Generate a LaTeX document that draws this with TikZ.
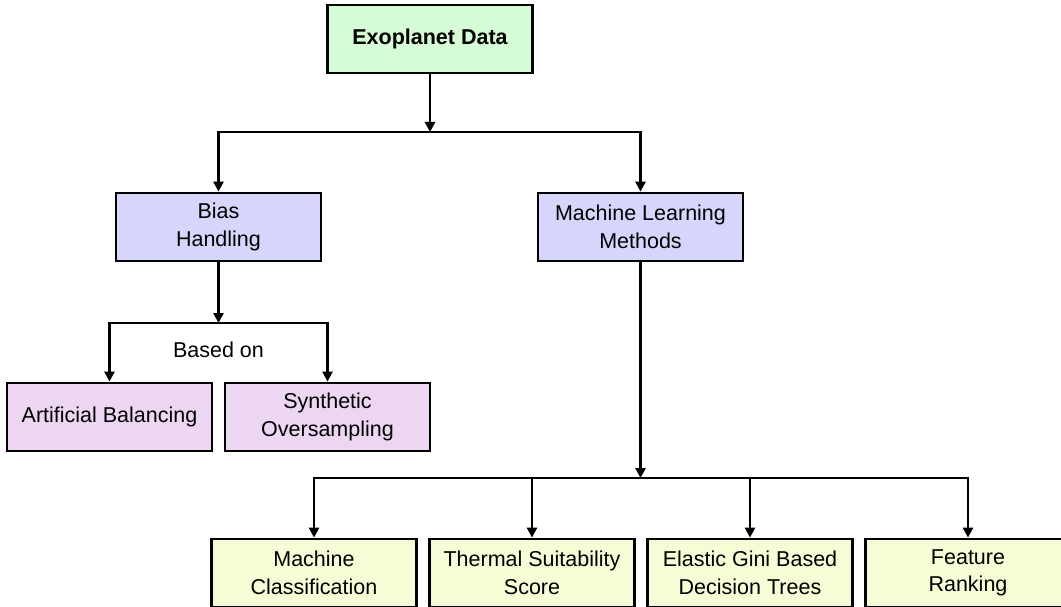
\documentclass[tikz,border=0pt]{standalone}
\usepackage{fontspec}
\setmainfont{Liberation Sans}
\usetikzlibrary{arrows.meta}
\usetikzlibrary{positioning}
\definecolor{datagreen}{RGB}{213,252,213}
\definecolor{methodblue}{RGB}{214,214,252}
\definecolor{biaspink}{RGB}{237,214,242}
\definecolor{resultyellow}{RGB}{246,252,214}

\begin{document}
\begin{tikzpicture}[x=1pt,y=-1pt,node distance=218pt,
  box/.style={draw,line width=2.8pt,align=center,minimum width=205pt,minimum height=68pt,inner sep=0pt,font=\fontsize{21.5}{27.5}\selectfont},
  arr/.style={line width=2.6pt,-{Triangle[length=10pt,width=10pt]}}]
  \useasboundingbox (0,0) rectangle (1061,607);
  \node[box,fill=datagreen,font=\fontsize{21.5}{27.5}\selectfont\bfseries] (data) at (430,39) {Exoplanet Data};
  \node[box,fill=methodblue] (bias) at (218.5,227) {Bias\\Handling};
  \node[box,fill=methodblue] (mlm) at (640.5,227) {Machine Learning\\Methods};
  \node[box,fill=biaspink] (artbal) at (109.5,417) {Artificial Balancing};
  \node[box,fill=biaspink,right of=artbal] (synth) {Synthetic\\Oversampling};
  \node[box,fill=resultyellow] (classif) at (314,573) {Machine\\Classification};
  \node[box,fill=resultyellow,right of=classif] (thermal) {Thermal Suitability\\Score};
  \node[box,fill=resultyellow,right of=thermal] (gini) {Elastic Gini Based\\Decision Trees};
  \node[box,fill=resultyellow,right of=gini] (rank) {Feature\\Ranking};
  \node[font=\fontsize{21.5}{27.5}\selectfont] (basedon) at (218.5,350) {Based on};
  \coordinate (split1) at (430,132);
  \coordinate (split2) at (218.5,323);
  \coordinate (split3) at (640.5,478);
  %\node[box] (extra) at (430,300) {};
  \draw[arr](data)--(split1);
  \draw[arr](split1)-|(bias);
  \draw[arr](split1)-|(mlm);
  \draw[arr](bias)--(split2);
  \draw[arr](split2)-|(artbal);
  \draw[arr](split2)-|(synth);
  \draw[arr](mlm)--(split3);
  \draw[arr](split3)-|(classif);
  \draw[arr](split3)-|(thermal);
  \draw[arr](split3)-|(gini);
  \draw[arr](split3)-|(rank);
\end{tikzpicture}
\end{document}
